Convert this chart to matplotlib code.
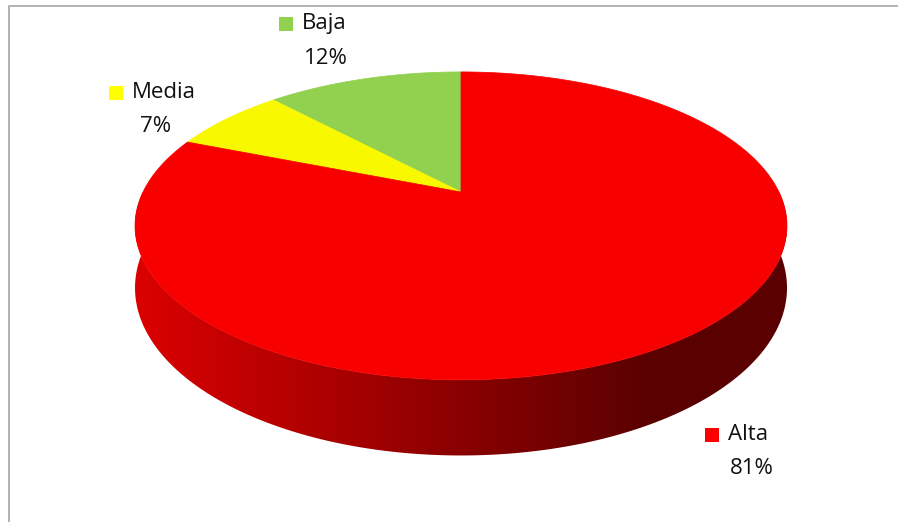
import numpy as np
import matplotlib.pyplot as plt
from matplotlib.patches import Polygon, Rectangle

# nivel de riesgo percibido
labels = ['Alta', 'Media', 'Baja']
values = [81, 7, 12]
colors = ['#f80000', '#f8f800', '#92d050']
key_colors = ['#ff0000', '#ffff00', '#92d050']
order = [2, 1, 0]  # counterclockwise from 12 o'clock: Baja, Media, Alta

W, H = 898, 522
fig = plt.figure(figsize=(W / 100, H / 100), dpi=100)
ax = fig.add_axes([0, 0, 1, 1])
ax.set_xlim(0, W)
ax.set_ylim(H, 0)
ax.axis('off')

# perspective projection of the pie disc
cx, cy, A, B, p, depth = 461, 192, 318, 146.5, 0.22, 59


def proj(t, dz=0.0):
    u, v = np.cos(t), np.sin(t)
    k = 1.0 / (1.0 + p * v)
    return cx + A * u * k, cy - B * v * k + dz * k


# side wall (front half) filled with a horizontal dark-red gradient
ts = np.linspace(np.pi, 2 * np.pi, 400)
xt, yt = proj(ts)
xb, yb = proj(ts[::-1], depth)
side = Polygon(list(zip(xt, yt)) + list(zip(xb, yb)), closed=True,
               facecolor='none', edgecolor='none')
ax.add_patch(side)
gx = np.linspace(0, W, 600)
f = np.clip((gx - 133) / (650 - 133), 0, 1)
shade = (220 - 130 * f) / 255
grad = np.zeros((2, gx.size, 3))
grad[..., 0] = shade
img = ax.imshow(grad, extent=(0, W, H, 0), aspect='auto', interpolation='bilinear',
                zorder=1)
img.set_clip_path(side)

# top face slices
total = sum(values)
start = np.pi / 2
for i in order:
    span = 2 * np.pi * values[i] / total
    t = np.linspace(start, start + span, 200)
    x, y = proj(t)
    pts = [(cx, cy)] + list(zip(x, y))
    ax.add_patch(Polygon(pts, closed=True, facecolor=colors[i],
                         edgecolor=colors[i], linewidth=0.5, zorder=2))
    start += span

# labels with colour keys
label_pos = {'Baja': (302, 24), 'Media': (132, 93), 'Alta': (728, 435)}
font = ['Open Sans', 'DejaVu Sans']
for i, name in enumerate(labels):
    lx, ly = label_pos[name]
    ax.add_patch(Rectangle((lx - 23, ly - 7), 14, 14, facecolor=key_colors[i],
                           edgecolor='none'))
    ax.text(lx, ly, name, fontsize=16, family=font, va='center', ha='left', color='#111111')
    ax.text(lx + 24, ly + 34, f'{values[i]}%', fontsize=16, family=font,
            va='center', ha='center', color='#111111')

# chart area border
ax.plot([9, 9, W + 5], [H + 5, 6, 6], color='#a6a6a6', linewidth=1.2,
        solid_joinstyle='miter')

fig.savefig('out.png', dpi=100)
